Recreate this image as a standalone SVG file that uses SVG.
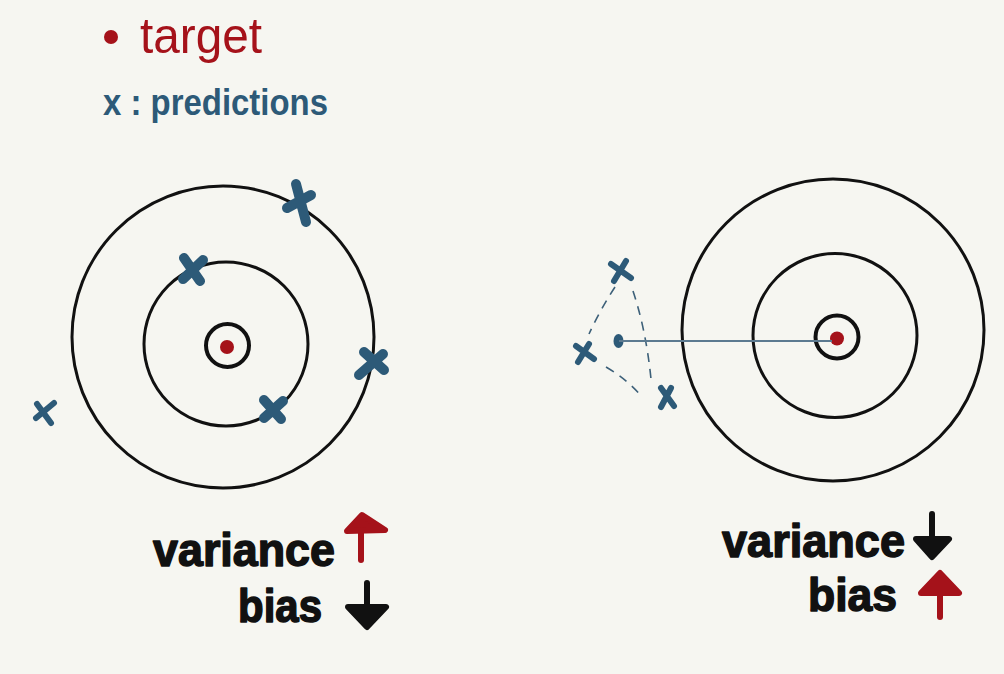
<svg xmlns="http://www.w3.org/2000/svg" width="1004" height="674" viewBox="0 0 1004 674">
<style>
.ring{fill:none;stroke:#111;stroke-width:3}
.ringin{fill:none;stroke:#111;stroke-width:4}
.dot{fill:#a5121a}
.xb{stroke:#2d5a78;stroke-width:10;stroke-linecap:round;fill:none}
.xs{stroke:#2d5a78;stroke-width:6;stroke-linecap:round;fill:none}
.dash{stroke:#3d6079;stroke-width:1.6;stroke-dasharray:9 7;fill:none}
.lbl{font-family:"Liberation Sans",Arial,sans-serif;font-weight:bold;font-size:46px;fill:#111;stroke:#111;stroke-width:1.5;stroke-linejoin:round}
.arrB{fill:#111;stroke:#111;stroke-width:6;stroke-linejoin:round;stroke-linecap:round}
.arrR{fill:#a5121a;stroke:#a5121a;stroke-width:6;stroke-linejoin:round;stroke-linecap:round}
</style>
<rect width="1004" height="674" fill="#f6f6f1"/>
<g id="legend">
<circle cx="111" cy="37" r="7" class="dot"/>
<text x="140" y="53" font-family="'Liberation Sans',Arial,sans-serif" font-size="50" fill="#a5121a" textLength="122" lengthAdjust="spacingAndGlyphs">target</text>
<text x="103" y="115" font-family="'Liberation Sans',Arial,sans-serif" font-weight="bold" font-size="36" fill="#2d5a78" textLength="225" lengthAdjust="spacingAndGlyphs">x : predictions</text>
</g>
<g id="target-left">
<circle cx="223" cy="337" r="151" class="ring"/>
<circle cx="226" cy="344" r="82" class="ring"/>
<circle cx="227.5" cy="345.5" r="21.5" class="ringin"/>
<circle cx="227" cy="347" r="7" class="dot"/>
</g>
<g id="predictions-left">
<path class="xb" d="M296 184L306 222M287 208L311 195"/>
<path class="xb" d="M184 258L200 281M203 260L183 279"/>
<path class="xb" d="M364 352L384 370M383 354L359 375"/>
<path class="xb" d="M264 400L281 419M283 401L264 418"/>
<path class="xs" d="M37 404L51 423M54 403L36 418"/>
</g>
<g id="target-right">
<circle cx="833" cy="330" r="151" class="ring"/>
<circle cx="835" cy="335.5" r="82" class="ring"/>
<circle cx="837" cy="337" r="21.5" class="ringin"/>
<circle cx="837" cy="338.5" r="7" class="dot"/>
</g>
<g id="predictions-right">
<path class="xs" d="M611 264L631 278M626 261L614 281"/>
<path class="xs" d="M576 346L594 359M589 344L578 362"/>
<path class="xs" d="M661 388L674 406M671 388L661 407"/>
<ellipse cx="618.5" cy="341" rx="5" ry="7" fill="#2d5a78"/>
</g>
<g id="connectors">
<path class="dash" d="M615 287Q600 310 589 334"/>
<path class="dash" d="M633 291Q646 330 651 379"/>
<path class="dash" d="M606 367Q628 380 642 397"/>
<line x1="619" y1="341" x2="832" y2="341" stroke="#5c7a90" stroke-width="2"/>
</g>
<g id="label-left">
<text class="lbl" x="153" y="566" textLength="182" lengthAdjust="spacingAndGlyphs">variance</text>
<text class="lbl" x="238" y="622" textLength="84" lengthAdjust="spacingAndGlyphs">bias</text>
<path class="arrR" d="M361 560L361 528"/>
<path class="arrR" d="M347 531L362 515L385 530Z"/>
<path class="arrB" d="M367 583L367 608"/>
<path class="arrB" d="M348 607L367 627L386 607Z"/>
</g>
<g id="label-right">
<text class="lbl" x="722" y="557" textLength="183" lengthAdjust="spacingAndGlyphs">variance</text>
<text class="lbl" x="808" y="611" textLength="89" lengthAdjust="spacingAndGlyphs">bias</text>
<path class="arrB" d="M932 514L932 540"/>
<path class="arrB" d="M916 539L932 557L949 539Z"/>
<path class="arrR" d="M940 617L940 590"/>
<path class="arrR" d="M921 593L940 573L959 593Z"/>
</g>
</svg>
